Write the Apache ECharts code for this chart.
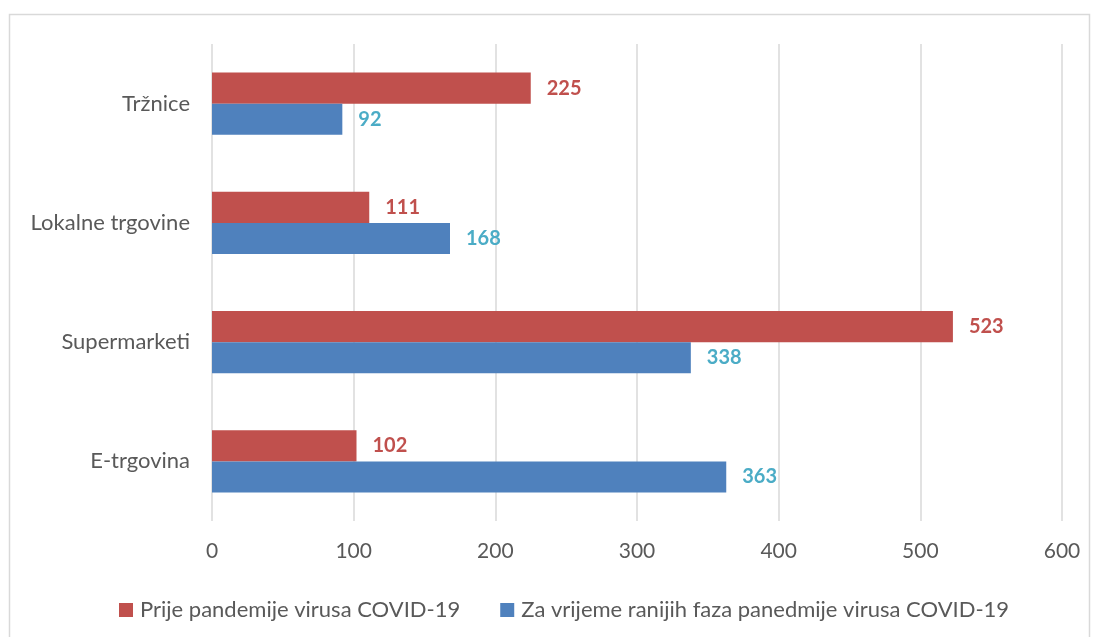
<!DOCTYPE html>
<html>
<head>
<meta charset="utf-8">
<script src="https://cdn.jsdelivr.net/npm/echarts@6/dist/echarts.min.js"></script>
<style>html,body{margin:0;padding:0;background:#fff}#c{width:1098px;height:637px}</style>
</head>
<body>
<div id="c"></div>
<script>
const categories = ['E-trgovina', 'Supermarketi', 'Lokalne trgovine', 'Tržnice'];
const seriesNames = ['Prije pandemije virusa COVID-19', 'Za vrijeme ranijih faza panedmije virusa COVID-19'];
const prije = [102, 523, 111, 225];
const zaVrijeme = [363, 338, 168, 92];
const xTicks = [0, 100, 200, 300, 400, 500, 600];

const font = 'Lato, "Open Sans", sans-serif';
const chart = echarts.init(document.getElementById('c'));
chart.setOption({
  animation: false,
  graphic: [{
    type: 'rect',
    shape: { x: 9.5, y: 14.5, width: 1080, height: 640 },
    style: { fill: 'none', stroke: '#d9d9d9', lineWidth: 1.5 },
    silent: true
  }],
  grid: { left: 212, right: 36, top: 44, bottom: 116 },
  legend: {
    top: 594,
    left: 114,
    itemWidth: 14,
    itemHeight: 14,
    itemGap: 40,
    icon: 'rect',
    textStyle: { color: '#595959', fontSize: 22, fontFamily: font, padding: [0, 0, 0, 2] },
    data: seriesNames
  },
  xAxis: {
    type: 'value',
    min: xTicks[0],
    max: xTicks[xTicks.length - 1],
    interval: 100,
    axisLine: { show: false },
    axisTick: { show: false },
    splitLine: { lineStyle: { color: '#d9d9d9', width: 1.5 } },
    axisLabel: { color: '#595959', fontSize: 21, fontFamily: font, margin: 20 }
  },
  yAxis: {
    type: 'category',
    data: categories,
    axisLine: { show: false },
    axisTick: { show: false },
    axisLabel: { color: '#595959', fontSize: 22, fontFamily: font, margin: 22 }
  },
  series: [
    {
      name: seriesNames[0],
      type: 'bar',
      data: prije,
      barGap: '0%',
      barCategoryGap: '48%',
      itemStyle: { color: '#C0504D' },
      label: { show: true, position: 'right', distance: 16, color: '#C0504D', fontWeight: 'bold', fontSize: 20, fontFamily: font }
    },
    {
      name: seriesNames[1],
      type: 'bar',
      data: zaVrijeme,
      barGap: '0%',
      barCategoryGap: '48%',
      itemStyle: { color: '#4F81BD' },
      label: { show: true, position: 'right', distance: 16, color: '#4BACC6', fontWeight: 'bold', fontSize: 20, fontFamily: font }
    }
  ]
});
</script>
</body>
</html>
